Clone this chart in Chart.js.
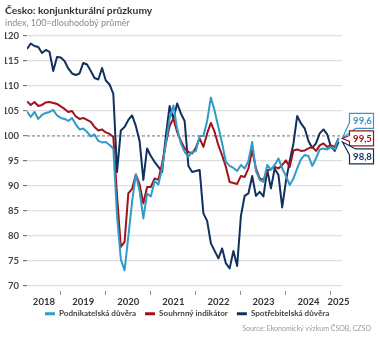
<!DOCTYPE html>
<html>
<head>
<meta charset="utf-8">
<script src="https://cdn.jsdelivr.net/npm/chart.js@4.4.1/dist/chart.umd.min.js"></script>
<style>
  html, body { margin: 0; padding: 0; background: #fff; }
  #wrap { position: relative; width: 380px; height: 346px; }
  #source { position: absolute; right: 9px; top: 323.5px; font: 7px Lato, sans-serif; color: #9a9a9a; white-space: nowrap; }
</style>
</head>
<body>
<div id="wrap">
  <canvas id="c" width="380" height="346"></canvas>
  <div id="source">Source: Ekonomický výzkum ČSOB, CZSO</div>
</div>
<script>
// Monthly observations, April 2018 – March 2025 (index, long-term average = 100)
const months = [];
for (let y = 2018, m = 4; months.length < 84; ) {
  months.push(y + '-' + String(m).padStart(2, '0'));
  if (++m > 12) { m = 1; y++; }
}

const seriesNames = ['Podnikatelská důvěra', 'Souhrnný indikátor', 'Spotřebitelská důvěra'];

const business = [
  104.9, 103.8, 104.8, 103.4, 104.2, 104.6, 104.8, 105.2, 104.1,
  103.6, 103.4, 103.0, 103.6, 102.3, 101.3, 101.5, 100.8, 99.9, 100.3, 99.0, 98.7,
  98.8, 98.2, 97.5, 84.0, 75.3, 73.1, 79.9, 86.8, 92.3, 89.0, 83.5, 88.5,
  87.9, 91.0, 90.3, 93.5, 98.5, 103.5, 106.1, 101.5, 98.5, 96.8, 95.8, 96.8,
  97.0, 100.0, 100.0, 103.0, 107.7, 105.0, 101.8, 98.5, 94.8, 94.0, 93.6, 93.0,
  94.2, 93.5, 95.0, 98.8, 93.0, 91.2, 90.8, 94.2, 93.2, 94.2, 95.5, 93.5,
  92.0, 90.2, 91.5, 93.5, 95.3, 96.2, 96.0, 94.0, 95.5, 97.3, 97.5, 97.3,
  97.8, 97.3, 99.6
];

const composite = [
  106.9, 106.2, 106.8, 106.0, 106.2, 106.7, 106.8, 106.6, 106.4,
  105.9, 105.4, 104.8, 105.0, 103.9, 103.4, 103.6, 103.2, 102.8, 101.8, 101.1, 101.3,
  100.7, 100.4, 99.8, 88.0, 77.8, 78.8, 88.5, 89.4, 92.3, 90.3, 86.5, 89.8,
  89.8, 91.5, 91.2, 94.5, 98.5, 102.0, 103.5, 100.8, 99.0, 97.5, 96.8, 96.5,
  97.7, 99.5, 97.8, 100.5, 102.6, 100.8, 98.1, 96.1, 93.8, 90.8, 90.6, 90.4,
  92.0, 91.8, 93.5, 97.2, 93.5, 91.5, 91.2, 93.0, 93.4, 93.8, 93.5, 94.2,
  95.1, 93.8, 97.1, 97.3, 97.0, 97.1, 97.5, 97.8, 97.0, 98.1, 98.5, 97.8,
  98.1, 97.8, 99.5
];

const consumer = [
  117.4, 118.5, 118.0, 117.8, 116.6, 117.2, 116.8, 113.0, 115.8,
  115.7, 115.0, 113.5, 112.5, 112.2, 112.5, 114.6, 114.3, 113.0, 111.6, 111.3, 113.6,
  111.1, 110.3, 108.4, 92.8, 101.1, 101.8, 103.2, 104.1, 102.0, 99.0, 91.2, 97.5,
  96.0, 94.8, 93.8, 92.8, 100.0, 106.0, 103.4, 106.5, 104.5, 103.0, 94.0, 92.8,
  93.0, 93.2, 84.5, 83.0, 78.5, 77.0, 75.5, 77.5, 74.5, 73.5, 77.0, 74.0,
  84.0, 88.0, 88.5, 92.0, 88.0, 88.8, 87.9, 93.2, 89.5, 93.5, 92.2, 85.7,
  91.0, 95.0, 98.5, 104.0, 102.5, 101.5, 99.0, 97.6, 98.5, 100.5, 101.3, 100.3,
  97.8, 97.0, 98.8
];

const yearLabels = ['2018', '2019', '2020', '2021', '2022', '2023', '2024', '2025'];
const yTicks = [70, 75, 80, 85, 90, 95, 100, 105, 110, 115, 120];

const colors = ['#2f9bc8', '#a3121c', '#10305e'];
const X_MAX = months.length;           // right edge of the plot, one month past the last point

// year boundaries (January of each year) and the centre of each year's span
const boundaries = months.map((m, i) => m.endsWith('-01') ? i : -1).filter(i => i >= 0);
const yearCentres = yearLabels.map(y => {
  const first = months.findIndex(m => m.startsWith(y));
  const nextIdx = months.findIndex(m => m.startsWith(String(+y + 1)));
  const end = nextIdx < 0 ? X_MAX + 1 : nextIdx;
  return (first + end) / 2;
});

const toPoints = arr => arr.map((v, i) => ({ x: i, y: v }));

const FONT = 'Lato, "Open Sans", sans-serif';

// dashed long-term average line
const averageLine = {
  id: 'averageLine',
  beforeDatasetsDraw(chart) {
    const { ctx, chartArea } = chart;
    const y = chart.scales.y.getPixelForValue(100);
    ctx.save();
    ctx.strokeStyle = '#6f6f6f';
    ctx.lineWidth = 1;
    ctx.setLineDash([3, 2]);
    ctx.beginPath();
    ctx.moveTo(chartArea.left, y);
    ctx.lineTo(chartArea.right, y);
    ctx.stroke();
    ctx.restore();
  }
};

// legend row: centred under the plot area and tucked closer to the year labels
const legendUnderPlot = {
  id: 'legendUnderPlot',
  afterLayout(chart) {
    const lg = chart.legend, area = chart.chartArea;
    if (!lg) return;
    const shift = (area.left + area.right) / 2 + 2.5 - (lg.left + lg.right) / 2;
    lg.left += shift;
    lg.right += shift;
    lg.top -= 7.2;
    lg.bottom -= 7.2;
  }
};

// value call-outs at the end of each line
const endCallouts = {
  id: 'endCallouts',
  afterDatasetsDraw(chart) {
    const { ctx } = chart;
    const W = 24, H = 15;
    const layout = [
      { top: -24.5, kind: 'low' },
      { top: -7.5, kind: 'mid' },
      { top: 7, kind: 'high' }
    ];
    chart.data.datasets.forEach((ds, d) => {
      const meta = chart.getDatasetMeta(d);
      const last = meta.data[meta.data.length - 1];
      const value = ds.data[ds.data.length - 1].y;
      const tx = last.x + 4, ty = last.y;
      const L = tx + 7, T = ty + layout[d].top;
      ctx.save();
      ctx.beginPath();
      if (layout[d].kind === 'low') {
        ctx.moveTo(L, T); ctx.lineTo(L + W, T); ctx.lineTo(L + W, T + H);
        ctx.lineTo(L + 6, T + H); ctx.lineTo(tx, ty); ctx.lineTo(L, T + H - 6);
      } else if (layout[d].kind === 'mid') {
        ctx.moveTo(L, T); ctx.lineTo(L + W, T); ctx.lineTo(L + W, T + H);
        ctx.lineTo(L, T + H); ctx.lineTo(L, T + H / 2 + 3); ctx.lineTo(tx, ty); ctx.lineTo(L, T + H / 2 - 3);
      } else {
        ctx.moveTo(L + 6, T); ctx.lineTo(L + W, T); ctx.lineTo(L + W, T + H);
        ctx.lineTo(L, T + H); ctx.lineTo(L, T + 6); ctx.lineTo(tx, ty);
      }
      ctx.closePath();
      ctx.fillStyle = '#fff';
      ctx.fill();
      ctx.strokeStyle = ds.borderColor;
      ctx.lineWidth = 1.2;
      ctx.stroke();
      ctx.fillStyle = ds.borderColor;
      ctx.font = 'bold 9.5px ' + FONT;
      ctx.textAlign = 'center';
      ctx.textBaseline = 'middle';
      ctx.fillText(value.toFixed(1).replace('.', ','), L + W / 2 + 1, T + H / 2 + 0.5);
      ctx.restore();
    });
  }
};

new Chart(document.getElementById('c'), {
  type: 'line',
  data: {
    datasets: [business, composite, consumer].map((arr, i) => ({
      label: seriesNames[i],
      data: toPoints(arr),
      borderColor: colors[i],
      backgroundColor: colors[i],
      borderWidth: 2,
      pointRadius: 0,
      tension: 0,
      borderJoinStyle: 'round'
    }))
  },
  options: {
    responsive: false,
    animation: false,
    events: [],
    layout: { padding: { left: 5, right: 37.75, top: 0, bottom: 11.0 } },
    scales: {
      x: {
        type: 'linear',
        min: 0,
        max: X_MAX,
        border: { display: false },
        grid: {
          drawOnChartArea: false,
          drawTicks: true,
          tickLength: 4,
          tickWidth: 1,
          tickColor: ctx => (ctx.tick && boundaries.includes(ctx.tick.value)) ? '#8a8a8a' : 'rgba(0,0,0,0)'
        },
        afterBuildTicks: scale => {
          scale.ticks = [...boundaries, ...yearCentres].sort((a, b) => a - b).map(v => ({ value: v }));
        },
        afterFit: scale => { scale.height = 17; },
        ticks: {
          autoSkip: false,
          maxRotation: 0,
          padding: 1.5,
          color: '#333',
          font: { family: FONT, size: 9.5, weight: 'bold' },
          callback: v => {
            const k = yearCentres.indexOf(v);
            return k >= 0 ? yearLabels[k] : '';
          }
        }
      },
      y: {
        min: 69,
        max: 120,
        border: { display: false },
        grid: {
          color: ctx => (ctx.tick && ctx.tick.value === 100) ? 'rgba(0,0,0,0)' : '#dedede',
          lineWidth: 1.2,
          tickLength: 4,
          tickColor: '#7a7a7a'
        },
        afterBuildTicks: scale => { scale.ticks = yTicks.map(v => ({ value: v })); },
        afterFit: scale => { scale.width = 22; },
        ticks: {
          padding: 4,
          color: '#444',
          font: { family: FONT, size: 9.5, weight: 'bold' }
        }
      }
    },
    plugins: {
      tooltip: { enabled: false },
      title: {
        display: true,
        text: 'Česko: konjunkturální průzkumy',
        align: 'start',
        color: '#333',
        font: { family: FONT, size: 10.3, weight: 'bold', lineHeight: 1.2 },
        padding: { top: 4.3, bottom: 0 }
      },
      subtitle: {
        display: true,
        text: 'index, 100=dlouhodobý průměr',
        align: 'start',
        color: '#8a8a8a',
        font: { family: FONT, size: 9, lineHeight: 1.2 },
        padding: { top: 1.0, bottom: 7.5 }
      },
      legend: {
        position: 'bottom',
        align: 'center',
        labels: {
          boxWidth: 10,
          boxHeight: 3,
          padding: 9,
          color: '#444',
          font: { family: FONT, size: 8.1, weight: 'bold' },
          generateLabels: chart => Chart.defaults.plugins.legend.labels.generateLabels(chart).map(item => {
            item.lineWidth = 0;
            item.fillStyle = item.strokeStyle;
            return item;
          })
        }
      }
    }
  },
  plugins: [averageLine, legendUnderPlot, endCallouts]
});
</script>
</body>
</html>
